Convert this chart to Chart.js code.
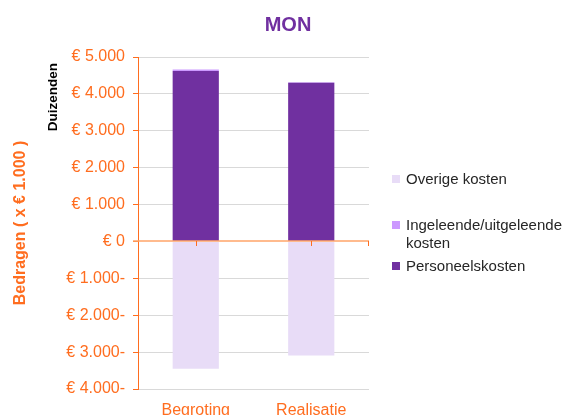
<!DOCTYPE html>
<html>
<head>
<meta charset="utf-8">
<script src="https://cdn.jsdelivr.net/npm/chart.js@4.4.1/dist/chart.umd.min.js"></script>
<style>
  html, body { margin: 0; padding: 0; background: #fff; }
  #wrap { position: relative; width: 573px; height: 415px; overflow: hidden; font-family: "Liberation Sans", Arial, sans-serif; }
  #c { position: absolute; left: 0; top: 0; }
  .txt { position: absolute; white-space: nowrap; }
  .rot { transform: translate(-50%, -50%) rotate(-90deg); }
  .legend-item { position: absolute; left: 392px; font-size: 15px; color: #262626; line-height: 18px; }
  .legend-item .sw { position: absolute; left: 0; top: 5px; width: 8px; height: 8px; }
  .legend-item .lbl { position: absolute; left: 14px; top: 0; white-space: nowrap; }
</style>
</head>
<body>
<div id="wrap">
  <canvas id="c" width="573" height="415"></canvas>
  <div class="txt" style="left:288px; top:24px; transform:translate(-50%,-50%); font-size:20px; font-weight:bold; color:#7030A0;">MON</div>
  <div class="txt rot" style="left:20px; top:223px; font-size:16px; font-weight:bold; color:#FF6D1F;">Bedragen ( x € 1.000 )</div>
  <div class="txt rot" style="left:52px; top:97px; font-size:13.5px; font-weight:bold; color:#000;">Duizenden</div>
  <div id="legend"></div>
</div>
<script>
// ---- Data ----
const categories = ['Begroting', 'Realisatie'];
const personeelskosten = [4620, 4300];
const ingeleendeKosten = [40, 15];
const overigeKosten = [-3450, -3090];
const yTickValues = [-4000, -3000, -2000, -1000, 0, 1000, 2000, 3000, 4000, 5000];
const yTickLabels = ['€ 4.000-', '€ 3.000-', '€ 2.000-', '€ 1.000-', '€ 0', '€ 1.000', '€ 2.000', '€ 3.000', '€ 4.000', '€ 5.000'];
const seriesNames = ['Personeelskosten', 'Ingeleende/uitgeleende kosten', 'Overige kosten'];

// ---- Styles ----
const seriesColors = ['#7030A0', '#CC99FF', '#E8DCF7'];
const orange = '#FF6D1F';
const zeroOrange = '#FFA468';
const gridGray = '#D9D9D9';
const font = '"Liberation Sans", Arial, sans-serif';

const zeroLinePlugin = {
  id: 'zeroLine',
  afterDatasetsDraw(chart) {
    const { ctx, chartArea, scales } = chart;
    const y0 = Math.round(scales.y.getPixelForValue(0));
    ctx.save();
    ctx.strokeStyle = zeroOrange;
    ctx.lineWidth = 1.6;
    ctx.beginPath();
    ctx.moveTo(chartArea.left - 5, y0);
    ctx.lineTo(chartArea.right, y0);
    ctx.stroke();
    ctx.lineWidth = 1;
    ctx.strokeStyle = orange;
    const xs = categories.map((_, i) => Math.round(scales.x.getPixelForValue(i)) + 0.5);
    xs.push(Math.round(chartArea.right) - 0.5);
    xs.forEach(x => {
      ctx.beginPath();
      ctx.moveTo(x, y0);
      ctx.lineTo(x, y0 + 5);
      ctx.stroke();
    });
    ctx.restore();
  }
};

const chart = new Chart(document.getElementById('c'), {
  type: 'bar',
  data: {
    labels: categories,
    datasets: [
      { label: seriesNames[0], data: personeelskosten, backgroundColor: seriesColors[0] },
      { label: seriesNames[1], data: ingeleendeKosten, backgroundColor: seriesColors[1] },
      { label: seriesNames[2], data: overigeKosten, backgroundColor: seriesColors[2] }
    ]
  },
  options: {
    responsive: false,
    animation: false,
    layout: { padding: { left: 0, right: 204, top: 57, bottom: 0 } },
    datasets: { bar: { categoryPercentage: 1.0, barPercentage: 0.4, borderWidth: 0 } },
    plugins: { legend: { display: false }, title: { display: false }, tooltip: { enabled: false } },
    scales: {
      x: {
        stacked: true,
        grid: { display: false },
        border: { display: false },
        ticks: { color: orange, font: { family: font, size: 16 }, padding: 4 },
        afterFit: (s) => { s.height = 26; }
      },
      y: {
        stacked: true,
        min: -4000,
        max: 5000,
        afterBuildTicks: (s) => { s.ticks = yTickValues.map(v => ({ value: v })); },
        ticks: {
          color: orange,
          font: { family: font, size: 16 },
          padding: 8,
          callback: (v) => yTickLabels[yTickValues.indexOf(v)]
        },
        grid: {
          color: (ctx) => (ctx.tick && ctx.tick.value === 0) ? 'rgba(0,0,0,0)' : gridGray,
          tickColor: orange,
          tickLength: 5,
          lineWidth: 1
        },
        border: { color: orange, width: 1 },
        afterFit: (s) => { s.width = 138; }
      }
    }
  },
  plugins: [zeroLinePlugin]
});

// ---- HTML legend (reverse order like the original) ----
const legendPos = [
  { idx: 2, top: 170, lines: ['Overige kosten'] },
  { idx: 1, top: 216, lines: ['Ingeleende/uitgeleende', 'kosten'] },
  { idx: 0, top: 257, lines: ['Personeelskosten'] }
];
const legend = document.getElementById('legend');
legendPos.forEach(p => {
  const item = document.createElement('div');
  item.className = 'legend-item';
  item.style.top = p.top + 'px';
  const sw = document.createElement('div');
  sw.className = 'sw';
  sw.style.background = seriesColors[p.idx];
  const lbl = document.createElement('div');
  lbl.className = 'lbl';
  lbl.innerHTML = p.lines.join('<br>');
  item.appendChild(sw);
  item.appendChild(lbl);
  legend.appendChild(item);
});
</script>
</body>
</html>
